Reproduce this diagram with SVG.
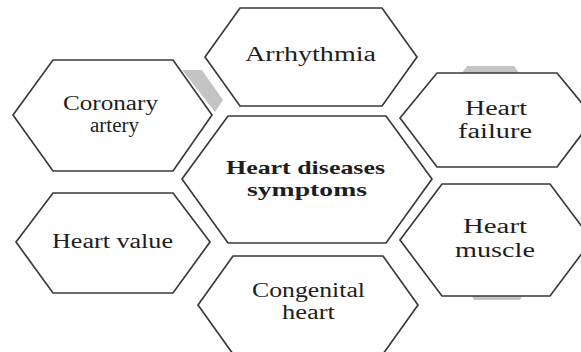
<svg xmlns="http://www.w3.org/2000/svg" width="581" height="352" viewBox="0 0 581 352">
<style>
.hex{fill:#fff;stroke:#3a3a3a;stroke-width:1.7;stroke-linejoin:miter}
.sh{fill:#c4c4c4;stroke:none}
.t{font-family:"Liberation Serif","Times New Roman",serif;font-size:20px;fill:#1e1e1e}
.b{font-weight:bold;font-size:19px}
</style>
<rect width="581" height="352" fill="#fff"/>
<g id="shadows">
<polygon class="sh" points="182,70 202,70 223,100 215,112"/>
<polygon class="sh" points="462,73 467,66 514,66 519,73"/>
<polygon class="sh" points="472,296 522,296 520,300 474,300"/>
</g>
<g id="connectors"></g>
<g id="n-arrhythmia">
<polygon class="hex" points="205,57 240,8 382,8 417,57 382,106 240,106"/>
<text class="t" x="245" y="61" textLength="131" lengthAdjust="spacingAndGlyphs">Arrhythmia</text>
</g>
<g id="n-coronary">
<polygon class="hex" points="13,115 53,60 173,60 212,115 173,171 53,171"/>
<text class="t" x="63" y="110" textLength="95" lengthAdjust="spacingAndGlyphs">Coronary</text>
<text class="t" x="90" y="132" textLength="49" lengthAdjust="spacingAndGlyphs">artery</text>
</g>
<g id="n-center">
<polygon class="hex" points="182,179 228,116 386,116 432,179 386,243 228,243"/>
<text class="t b" x="226" y="174" textLength="159" lengthAdjust="spacingAndGlyphs">Heart diseases</text>
<text class="t b" x="247" y="196" textLength="120" lengthAdjust="spacingAndGlyphs">symptoms</text>
</g>
<g id="n-failure">
<polygon class="hex" points="400,118 437,73 557,73 594,118 557,167 437,167"/>
<text class="t" x="465" y="115" textLength="62" lengthAdjust="spacingAndGlyphs">Heart</text>
<text class="t" x="458" y="138" textLength="74" lengthAdjust="spacingAndGlyphs">failure</text>
</g>
<g id="n-value">
<polygon class="hex" points="16,242 53,193 173,193 210,242 173,293 53,293"/>
<text class="t" x="52" y="248" textLength="121" lengthAdjust="spacingAndGlyphs">Heart value</text>
</g>
<g id="n-muscle">
<polygon class="hex" points="400,240 442,184 550,184 592,240 550,296 442,296"/>
<text class="t" x="463" y="233" textLength="64" lengthAdjust="spacingAndGlyphs">Heart</text>
<text class="t" x="455" y="257" textLength="80" lengthAdjust="spacingAndGlyphs">muscle</text>
</g>
<g id="n-congenital">
<polygon class="hex" points="198,305 233,256 383,256 418,305 383,354 233,354"/>
<text class="t" x="252" y="297" textLength="113" lengthAdjust="spacingAndGlyphs">Congenital</text>
<text class="t" x="282" y="319" textLength="53" lengthAdjust="spacingAndGlyphs">heart</text>
</g>
</svg>
